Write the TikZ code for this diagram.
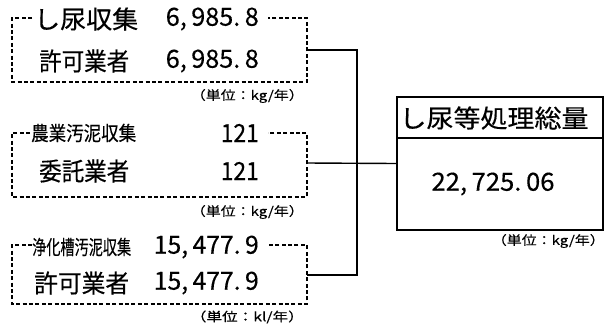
\documentclass[tikz,border=0pt]{standalone}
\usepackage{fontspec}
\setmainfont{Noto Sans CJK JP}[FakeBold=0.35]
\usepackage{graphicx}
\newcommand{\fw}[2]{\resizebox{#1pt}{\height}{#2}}
\newcommand{\cm}{,\hspace{0.18em}}
\newcommand{\pd}{.\hspace{0.18em}}
\begin{document}
\begin{tikzpicture}[x=1pt,y=-1pt,
 dbox/.style={line width=1.2pt, dash pattern=on 4pt off 2.4pt},
 sline/.style={line width=1.4pt},
 tl/.style={inner sep=0pt, anchor=west},
 tr/.style={inner sep=0pt, anchor=east},
 fa/.style={font=\fontsize{25}{25}\selectfont},
 fb/.style={font=\fontsize{20}{20}\selectfont},
 fn/.style={font=\fontsize{25}{25}\selectfont},
 fu/.style={font=\fontsize{12.5}{12.5}\selectfont}]
\useasboundingbox (0,0) rectangle (608,325);

% box 1
\draw[dbox] (32,18) -- (12,18) -- (12,82) -- (307,82) -- (307,18) -- (268,18);
\node[tl,fa] (t1a) at (34,19) {\fw{104}{し尿収集}};
\node[tr,fn] (n1a) at (259,19) {\fw{93}{6\cm 985\pd 8}};
\node[tl,fa] (t1b) at (39,61) {\fw{90}{許可業者}};
\node[tr,fn] (n1b) at (259,61) {\fw{93}{6\cm 985\pd 8}};
\node[tr,fu] (u1) at (304,96) {\fw{113}{（単位：kg/年）}};

% box 2
\draw[dbox] (30,133) -- (12,133) -- (12,197) -- (307,197) -- (307,133) -- (268,133);
\node[tl,fb] (t2a) at (31,133) {\fw{105}{農業汚泥収集}};
\node[tr,fn] (n2a) at (259,133) {\fw{38}{121}};
\node[tl,fa] (t2b) at (39,171) {\fw{90}{委託業者}};
\node[tr,fn] (n2b) at (259,171) {\fw{38}{121}};
\node[tr,fu] (u2) at (304,212) {\fw{113}{（単位：kg/年）}};

% box 3
\draw[dbox] (32,245) -- (12,245) -- (12,304) -- (307,304) -- (307,245) -- (268,245);
\node[tl,fb] (t3a) at (32,247) {\fw{99}{浄化槽汚泥収集}};
\node[tr,fn] (n3a) at (259,247) {\fw{105}{15\cm 477\pd 9}};
\node[tl,fa] (t3b) at (34,283) {\fw{95}{許可業者}};
\node[tr,fn] (n3b) at (259,283) {\fw{105}{15\cm 477\pd 9}};
\node[tr,fu] (u3) at (304,317) {\fw{113}{（単位：kl/年）}};

% total box
\node[draw, sline, minimum width=206pt, minimum height=133pt, inner sep=0pt] (total) at (500,163.5) {};
\draw[sline] (397,138) -- (603,138);
\node[fa, inner sep=0pt] (tt) at (494,118) {\fw{189}{し尿等処理総量}};
\node[fn, inner sep=0pt] (tv) at (493,184) {\fw{123}{22\cm 725\pd 06}};
\node[tr,fu] (ut) at (605,241) {\fw{113}{（単位：kg/年）}};

% connectors
\coordinate (b1r) at (307,50);
\coordinate (b2r) at (307,163);
\coordinate (b3r) at (307,275);
\coordinate (j1) at (357,50);
\coordinate (j3) at (357,275);
\draw[sline] (b1r) -- (j1) -- (j3) -- (b3r);
\draw[sline] (b2r) -- (total.west);
\end{tikzpicture}
\end{document}
